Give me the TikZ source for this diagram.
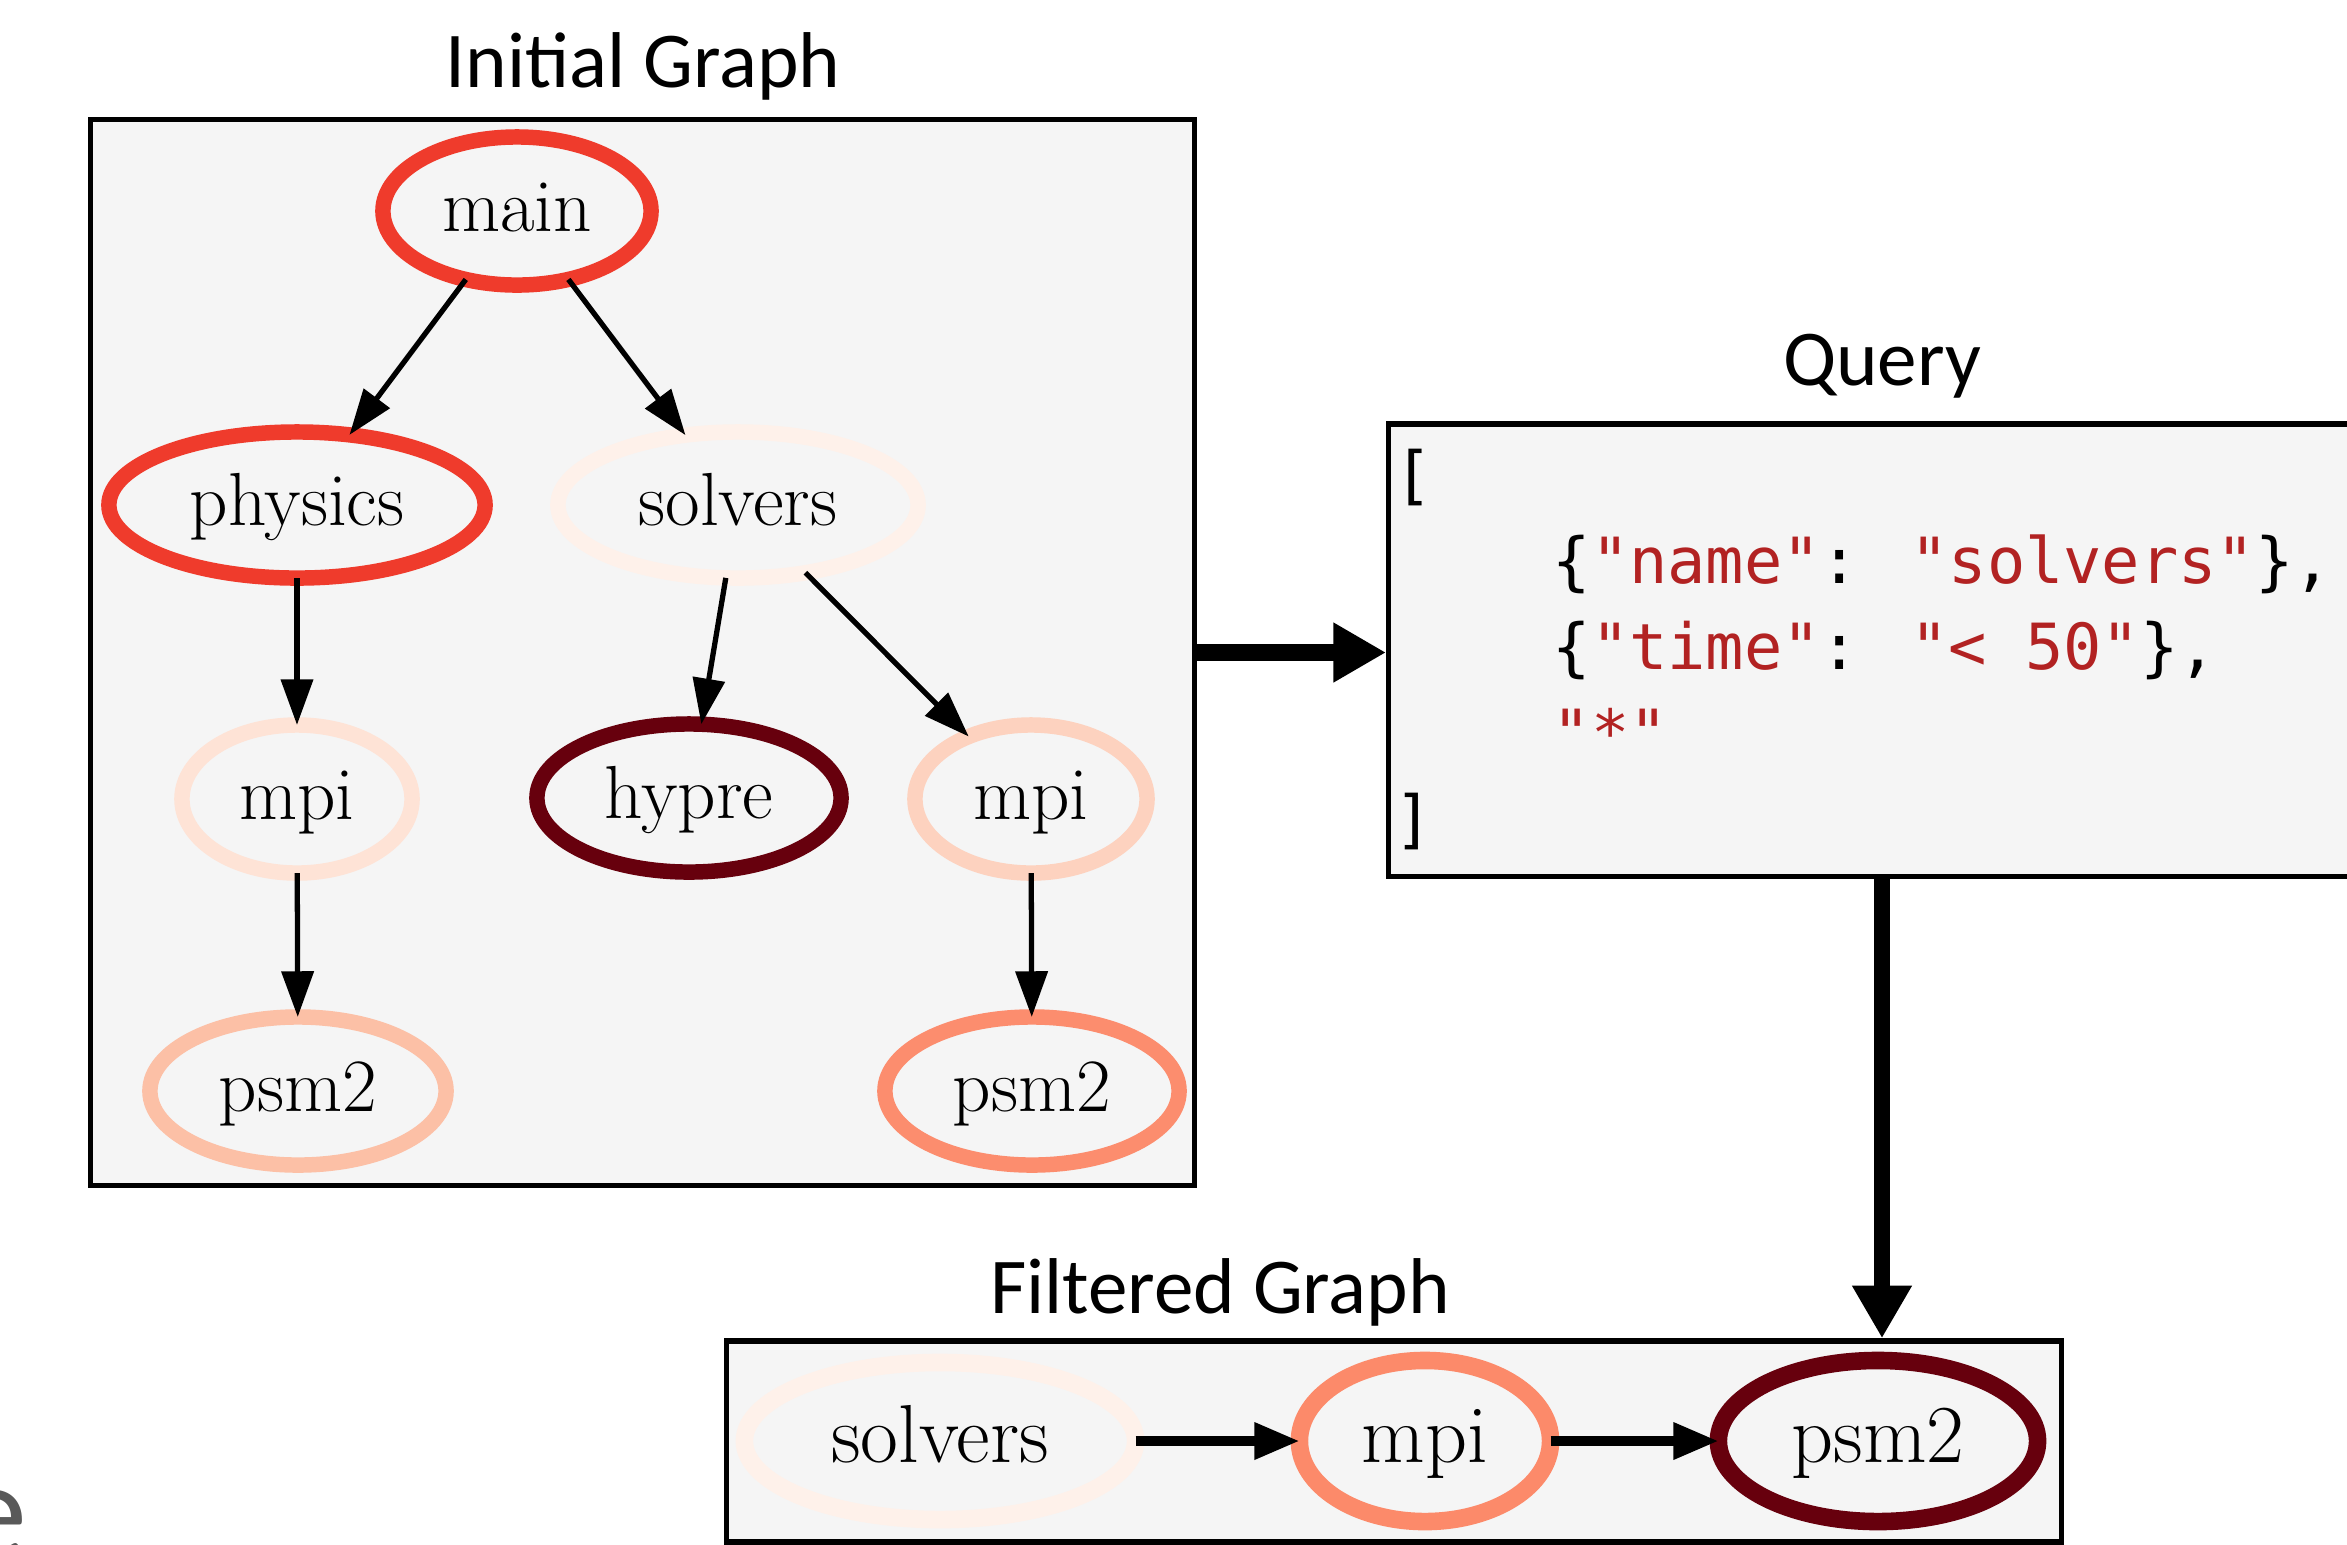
\documentclass[tikz,border=0pt]{standalone}
\usepackage{fontspec}
\usetikzlibrary{arrows.meta,shapes.geometric}
\newfontfamily\titlefont{Carlito}
\newfontfamily\codefont{DejaVu Sans Mono}
\definecolor{boxbg}{HTML}{F5F5F5}
\definecolor{cmain}{HTML}{EF3B2C}
\definecolor{csolv}{HTML}{FEF1EA}
\definecolor{cmpiL}{HTML}{FEE3D6}
\definecolor{chypre}{HTML}{67000D}
\definecolor{cmpiR}{HTML}{FDD2BF}
\definecolor{cpsmL}{HTML}{FCC0A6}
\definecolor{cpsmR}{HTML}{FC8D6E}
\definecolor{cfmpi}{HTML}{FC8A6A}
\definecolor{codered}{HTML}{B22222}
\definecolor{slidegray}{HTML}{595959}
\tikzset{
  panel/.style={draw=black, fill=boxbg, line width=1.5pt, inner sep=0pt},
  title/.style={anchor=base, inner sep=0pt, font=\titlefont\fontsize{22.5}{27}\selectfont},
  gv/.style={ellipse, line width=4.4pt, inner sep=0pt, outer sep=0pt, fill=none,
    text height=15.5pt, text depth=3.9pt, font=\fontsize{21.4}{25}\selectfont},
  fgv/.style={gv, line width=5pt, text height=17pt, text depth=5pt, font=\fontsize{23.4}{28}\selectfont},
  gedge/.style={-{Triangle[length=13pt,width=9pt]}, line width=1.5pt},
  fedge/.style={-{Triangle[length=12.8pt,width=10pt]}, line width=2.6pt},
  bigarrow/.style={-{Triangle[length=15pt,width=16pt]}, line width=4.8pt},
  code/.style={anchor=base west, inner sep=0pt, font=\codefont\fontsize{18.1}{24}\selectfont},
}
\begin{document}
\begin{tikzpicture}[x=0.01cm, y=-0.01cm]
\useasboundingbox (0,0) rectangle (2347,1544);

% panels
\node[panel, minimum width=11.03cm, minimum height=10.65cm] (init) at (642.5,652.5) {};
\node[panel, minimum width=10.31cm, minimum height=4.52cm] (query) at (1904.5,650) {};
\node[panel, minimum width=13.34cm, minimum height=2.01cm] (filt) at (1394,1441.5) {};

% titles
\node[title] (tinit) at (643,87) {Initial Graph};
\node[title] (tquery) at (1882,385) {Query};
\node[title] (tfilt) at (1220,1313) {Filtered Graph};

% initial graph
\node[gv, draw=cmain, minimum width=2.68cm, minimum height=1.48cm] (main) at (517,211) {main};
\node[gv, draw=cmain, minimum width=3.76cm, minimum height=1.46cm] (physics) at (297,505) {physics};
\node[gv, draw=csolv, minimum width=3.60cm, minimum height=1.46cm] (solvers) at (738,505) {solvers};
\node[gv, draw=cmpiL, minimum width=2.30cm, minimum height=1.48cm] (mpiL) at (297,799) {mpi};
\node[gv, draw=chypre, minimum width=3.04cm, minimum height=1.48cm] (hypre) at (689,798) {hypre};
\node[gv, draw=cmpiR, minimum width=2.32cm, minimum height=1.48cm] (mpiR) at (1031,799) {mpi};
\node[gv, draw=cpsmL, minimum width=2.96cm, minimum height=1.48cm] (psmL) at (298,1091) {psm2};
\node[gv, draw=cpsmR, minimum width=2.94cm, minimum height=1.48cm] (psmR) at (1032,1091) {psm2};

\draw[gedge] (main) -- (physics);
\draw[gedge] (main) -- (solvers);
\draw[gedge] (physics) -- (mpiL);
\draw[gedge] (solvers) -- (hypre);
\draw[gedge] (solvers) -- (mpiR);
\draw[gedge] (mpiL) -- (psmL);
\draw[gedge] (mpiR) -- (psmR);

% query text
\node[code] (q0) at (1394,497) {[};
\node[code] (q1) at (1552,583) {\{\textcolor{codered}{"name"}: \textcolor{codered}{"solvers"}\},};
\node[code] (q2) at (1552,669) {\{\textcolor{codered}{"time"}: \textcolor{codered}{"< 50"}\},};
\node[code] (q3) at (1552,755) {\textcolor{codered}{"*"}};
\node[code] (q4) at (1394,841) {]};

% filtered graph
\node[fgv, draw=csolv, minimum width=3.91cm, minimum height=1.57cm] (fsolv) at (940,1441) {solvers};
\node[fgv, draw=cfmpi, minimum width=2.51cm, minimum height=1.61cm] (fmpi) at (1425,1441) {mpi};
\node[fgv, draw=chypre, minimum width=3.19cm, minimum height=1.61cm] (fpsm) at (1878,1441) {psm2};
\draw[fedge] (fsolv) -- (fmpi);
\draw[fedge] (fmpi) -- (fpsm);

% big arrows
\draw[bigarrow] (init.east) -- (init.east -| query.west);
\draw[bigarrow] (query.south -| tquery) -- (filt.north -| tquery);

% slide fragment
\node[anchor=north east, inner sep=0pt, text=slidegray, font=\titlefont\fontsize{40}{48}\selectfont] (frag) at (28,1490) {e};
\end{tikzpicture}
\end{document}
